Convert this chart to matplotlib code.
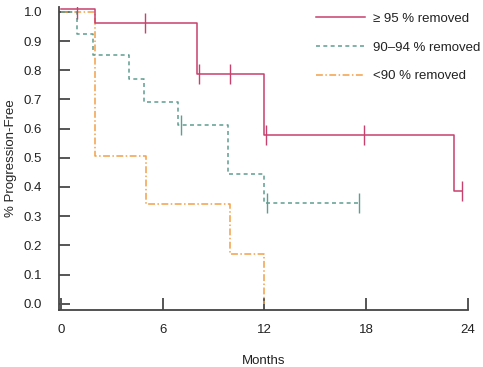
import numpy as np
import matplotlib
matplotlib.use("Agg")
import matplotlib.pyplot as plt

plt.rcParams['font.family'] = ['Liberation Sans', 'DejaVu Sans']

# ===== data =====
labels = ["\u2265 95 % removed", "90\u201394 % removed", "<90 % removed"]

red_t = [0, 2, 8, 12, 23.2, 23.7]
red_s = [1.01, 0.962, 0.788, 0.577, 0.387, 0.387]
red_cens = [0.95, 4.98, 8.17, 9.96, 12.1, 17.9, 23.7]

green_t = [0, 0.95, 1.88, 4.0, 4.9, 6.93, 9.86, 11.97, 17.6]
green_s = [1.0, 0.923, 0.852, 0.770, 0.691, 0.613, 0.445, 0.345, 0.345]
green_cens = [7.1, 12.15, 17.6]

orange_t = [0, 2, 5, 10, 12]
orange_s = [1.0, 0.505, 0.342, 0.170, 0.0]
orange_cens = []

xticks = [0, 6, 12, 18, 24]
yticks = [0.0, 0.1, 0.2, 0.3, 0.4, 0.5, 0.6, 0.7, 0.8, 0.9, 1.0]

colors = ['#c8406e', '#5f9e8f', '#f2a04a']
dashes = [None, (2.6, 2.2), (4.5, 1.6, 1.0, 1.6)]

fig = plt.figure(figsize=(4.83, 3.67), dpi=100)
ax = fig.add_axes([0.1215, 0.155, 0.8475, 0.826])

curves = [(red_t, red_s, red_cens), (green_t, green_s, green_cens),
          (orange_t, orange_s, orange_cens)]

# draw in reverse so red sits on top
for i in [2, 1, 0]:
    t, s, cens = curves[i]
    line, = ax.step(t, s, where='post', color=colors[i], lw=1.1, label=labels[i])
    if dashes[i] is not None:
        line.set_dashes(dashes[i])
    if cens:
        idx = np.searchsorted(t, cens, side='right') - 1
        ys = np.array(s)[idx]
        ax.plot(cens, ys, ls='none', marker='|', ms=14, mew=1.0, color=colors[i])

ax.set_xlim(-0.14, 24.03)
ax.set_ylim(-0.022, 1.017)
ax.set_xticks(xticks)
ax.set_yticks(yticks)
ax.set_yticklabels(["%.1f" % v for v in yticks])

for sp in ['top', 'right']:
    ax.spines[sp].set_visible(False)
for sp in ['left', 'bottom']:
    ax.spines[sp].set_color('#444444')
    ax.spines[sp].set_linewidth(1.3)

ax.tick_params(axis='y', direction='in', length=8, width=1.4, color='#555555',
               pad=12, labelsize=9.5, labelcolor='#222222')
ax.tick_params(axis='x', direction='in', length=8.5, width=1.4, color='#555555',
               pad=10, labelsize=9.5, labelcolor='#222222')

ax.set_xlabel("Months", fontsize=9.5, color='#222222', labelpad=14)
ax.set_ylabel("% Progression-Free", fontsize=9.5, color='#222222', labelpad=5)

h, l = ax.get_legend_handles_labels()
order = [l.index(x) for x in labels]
ax.legend([h[k] for k in order], [l[k] for k in order], frameon=False,
          loc='upper left', bbox_to_anchor=(0.6, 1.02), fontsize=9.5,
          handlelength=3.7, handletextpad=0.6, labelspacing=1.25,
          labelcolor='#222222')

fig.savefig("out.png", dpi=100)
